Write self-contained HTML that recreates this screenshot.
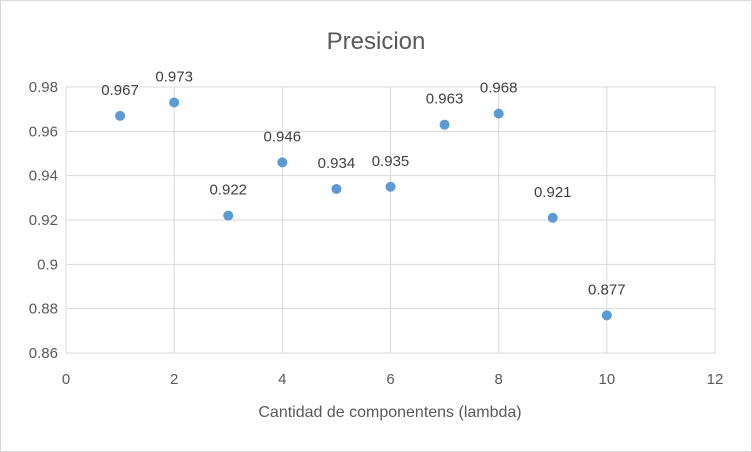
<!DOCTYPE html>
<html><head><meta charset="utf-8"><style>
body{margin:0;background:#fff}
svg{display:block;font-family:"Liberation Sans",Calibri,sans-serif}
</style></head><body>
<svg width="752" height="452">
<rect x="0.5" y="0.5" width="751" height="451" fill="#fff" stroke="#d9d9d9"/>
<text x="376" y="49" text-anchor="middle" font-size="24" fill="#595959">Presicion</text>
<g id="grid"></g>
<g id="ticks"></g>
<g id="pts"></g>
<text x="390" y="417" text-anchor="middle" font-size="16" fill="#595959">Cantidad de componentens (lambda)</text>
</svg>
<script>
const xValues=[1,2,3,4,5,6,7,8,9,10];
const yValues=[0.967,0.973,0.922,0.946,0.934,0.935,0.963,0.968,0.921,0.877];
const valueLabels=["0.967","0.973","0.922","0.946","0.934","0.935","0.963","0.968","0.921","0.877"];
const xTicks=[0,2,4,6,8,10,12];
const yTicks=[0.86,0.88,0.9,0.92,0.94,0.96,0.98];
const yTickLabels=["0.86","0.88","0.9","0.92","0.94","0.96","0.98"];
const X0=66,X1=715,Y0=353,Y1=87;
const sx=v=>X0+(v-0)/12*(X1-X0);
const sy=v=>Y0-(v-0.86)/0.12*(Y0-Y1);
const NS="http://www.w3.org/2000/svg";
function mk(t,a,p){const e=document.createElementNS(NS,t);for(const k in a)e.setAttribute(k,a[k]);p.appendChild(e);return e;}
const g=document.getElementById('grid'),tk=document.getElementById('ticks'),pg=document.getElementById('pts');
yTicks.forEach((v,i)=>{
 const l=mk('line',{x1:X0,x2:X1,y1:sy(v),y2:sy(v),stroke:'#d9d9d9','stroke-width':1},g);
 
 
 const t=mk('text',{x:X0-8,y:sy(v)+5,'text-anchor':'end','font-size':15,fill:'#595959'},tk);
 t.textContent=yTickLabels[i];
 
 
});
xTicks.forEach(v=>{
 const l=mk('line',{x1:sx(v),x2:sx(v),y1:Y1,y2:Y0,stroke:'#d9d9d9','stroke-width':1},g);
 
 
 const t=mk('text',{x:sx(v),y:Y0+31,'text-anchor':'middle','font-size':15,fill:'#595959'},tk);
 t.textContent=String(v);
 
 
});
xValues.forEach((x,i)=>{
 const c=mk('circle',{cx:sx(x),cy:sy(yValues[i]),r:5,fill:'#5b9bd5'},pg);
 
 
 const t=mk('text',{x:sx(x),y:sy(yValues[i])-21,'text-anchor':'middle','font-size':15,fill:'#404040'},pg);
 t.textContent=valueLabels[i];
 
 
});
</script>
</body></html>
